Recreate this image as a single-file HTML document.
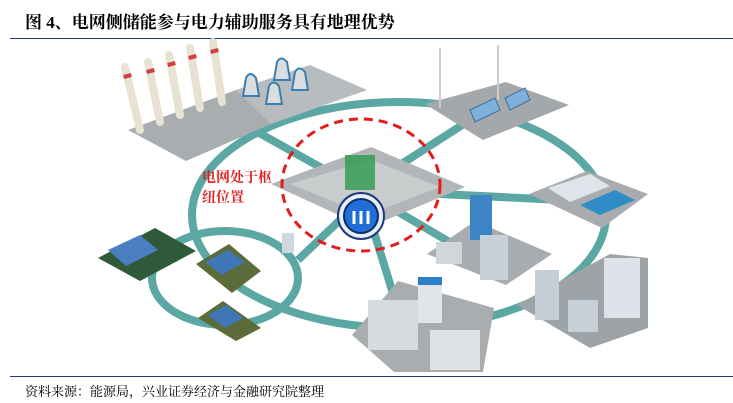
<!DOCTYPE html>
<html><head><meta charset="utf-8"><style>
body{margin:0;width:733px;height:403px;background:#fff;overflow:hidden;position:relative;font-family:"Liberation Serif","Noto Serif CJK SC",serif}
.t{position:absolute;left:25px;top:8px;font-size:17px;font-weight:bold;color:#000;font-family:"Liberation Serif","Noto Serif CJK SC",serif}
.r1{position:absolute;left:10px;top:38px;width:723px;height:1px;background:#1f3a6e}
.r2{position:absolute;left:10px;top:376px;width:723px;height:1px;background:#1f3a6e}
.f{position:absolute;left:25px;top:381px;font-size:13px;color:#000}
svg{position:absolute;left:0;top:0}
</style></head><body>
<div class="t">图 4、电网侧储能参与电力辅助服务具有地理优势</div>
<div class="r1"></div>
<svg width="733" height="403">
<g fill="none" stroke="#5ba7a4" stroke-width="8">
<ellipse cx="399" cy="215" rx="207" ry="113"/>
<ellipse cx="225" cy="278" rx="73" ry="47"/>
<line x1="361" y1="190" x2="236" y2="120"/>
<line x1="361" y1="190" x2="470" y2="120"/>
<line x1="361" y1="190" x2="560" y2="200"/>
<line x1="361" y1="190" x2="480" y2="260"/>
<line x1="361" y1="190" x2="395" y2="300"/>
<line x1="361" y1="200" x2="298" y2="260"/>
</g>
<!-- power plant -->
<polygon points="128,130 236,90 300,105 271,124 186,161" fill="#a9adb0"/>
<polygon points="236,90 310,65 367,90 271,124" fill="#b8bcbf"/>
<g stroke="#e8e2d2" stroke-width="8" stroke-linecap="round">
<line x1="125" y1="67" x2="140" y2="130"/><line x1="148" y1="62" x2="160" y2="122"/>
<line x1="169" y1="55" x2="180" y2="115"/><line x1="190" y1="48" x2="200" y2="108"/><line x1="213" y1="42" x2="222" y2="102"/>
</g>
<g stroke="#d04040" stroke-width="8">
<line x1="127" y1="74" x2="128" y2="78"/><line x1="150" y1="69" x2="151" y2="73"/><line x1="171" y1="62" x2="172" y2="66"/><line x1="192" y1="55" x2="193" y2="59"/><line x1="214" y1="49" x2="215" y2="53"/>
</g>
<g fill="#d9dde0" stroke="#3b7fb0" stroke-width="2">
<path d="M243,96 L246,78 Q250,70 256,78 L259,96 Z"/><path d="M274,80 L277,62 Q281,55 287,62 L290,80 Z"/>
<path d="M292,90 L295,72 Q299,65 305,72 L308,90 Z"/><path d="M266,104 L269,86 Q273,79 279,86 L282,104 Z"/>
</g>
<!-- solar -->
<polygon points="425,104 506,82 569,105 483,140" fill="#a4a8ab"/>
<g fill="#7fb0dc" stroke="#3a6fa0"><polygon points="470,110 495,98 500,110 475,122"/><polygon points="505,98 525,88 530,100 510,110"/></g>
<g stroke="#ccc" stroke-width="2"><line x1="440" y1="48" x2="440" y2="108"/><line x1="498" y1="45" x2="498" y2="100"/></g>
<!-- factory -->
<polygon points="529,194 587,171 648,194 602,228" fill="#a8acaf"/>
<polygon points="548,188 590,174 610,186 570,202" fill="#dfe4ea"/>
<polygon points="580,205 615,190 635,200 600,215" fill="#2f8cc4"/>
<!-- city right -->
<polygon points="427,254 475,221 552,254 506,285" fill="#a8acaf"/>
<rect x="470" y="195" width="22" height="45" fill="#3e84c4"/>
<rect x="480" y="235" width="28" height="45" fill="#c9d1d8"/>
<rect x="436" y="242" width="26" height="22" fill="#cfd6dc"/>
<polygon points="517,305 610,254 648,258 648,328 590,348" fill="#9ea3a7"/>
<rect x="535" y="270" width="24" height="50" fill="#c5ced6"/>
<rect x="604" y="258" width="36" height="60" fill="#dde3e8"/>
<rect x="568" y="300" width="30" height="32" fill="#c7d0d6"/>
<!-- bottom center -->
<polygon points="352,335 398,281 494,308 483,372 394,372" fill="#a9adb0"/>
<rect x="368" y="300" width="50" height="50" fill="#d6dbe0"/>
<rect x="418" y="283" width="24" height="40" fill="#e0e5ea"/><rect x="418" y="277" width="24" height="8" fill="#2a7fc8"/>
<rect x="430" y="330" width="50" height="40" fill="#dde2e6"/>
<!-- houses -->
<polygon points="98,258 155,228 196,251 140,281" fill="#2f5a3a"/>
<polygon points="108,250 140,235 158,250 126,266" fill="#4a7fc2"/>
<polygon points="196,264 229,244 261,271 232,293" fill="#5b6b3a"/>
<polygon points="205,262 228,250 245,262 222,275" fill="#3f76b5"/>
<polygon points="198,318 223,301 261,328 236,341" fill="#5b6b3a"/>
<polygon points="208,315 226,305 243,318 225,328" fill="#3f76b5"/>
<rect x="282" y="233" width="12" height="20" fill="#cfd8de"/>
<!-- center platform -->
<polygon points="271,184 371,147 465,187 367,228" fill="#b3b6b8"/>
<polygon points="290,184 371,160 440,187 367,215" fill="#c9cccd"/>
<rect x="345" y="155" width="30" height="35" fill="#2e9a4e" opacity=".8"/>
<ellipse cx="361" cy="185" rx="79" ry="66" fill="none" stroke="#e31b1b" stroke-width="3" stroke-dasharray="9,6"/>
<circle cx="361" cy="216" r="23" fill="#e8eef6" stroke="#1c3a7a" stroke-width="2"/>
<circle cx="361" cy="216" r="17" fill="#1f6fd6" stroke="#0d2a6b" stroke-width="2"/>
<g stroke="#fff" stroke-width="3"><line x1="354" y1="211" x2="354" y2="224"/><line x1="361" y1="211" x2="361" y2="224"/><line x1="368" y1="211" x2="368" y2="224"/></g>
<text x="202" y="182" font-size="14" font-weight="bold" fill="#e02020" font-family="Liberation Serif,Noto Serif CJK SC,serif">电网处于枢</text>
<text x="202" y="202" font-size="14" font-weight="bold" fill="#e02020" font-family="Liberation Serif,Noto Serif CJK SC,serif">纽位置</text>
</svg>
<div class="r2"></div>
<div class="f">资料来源：能源局，兴业证券经济与金融研究院整理</div>
</body></html>
